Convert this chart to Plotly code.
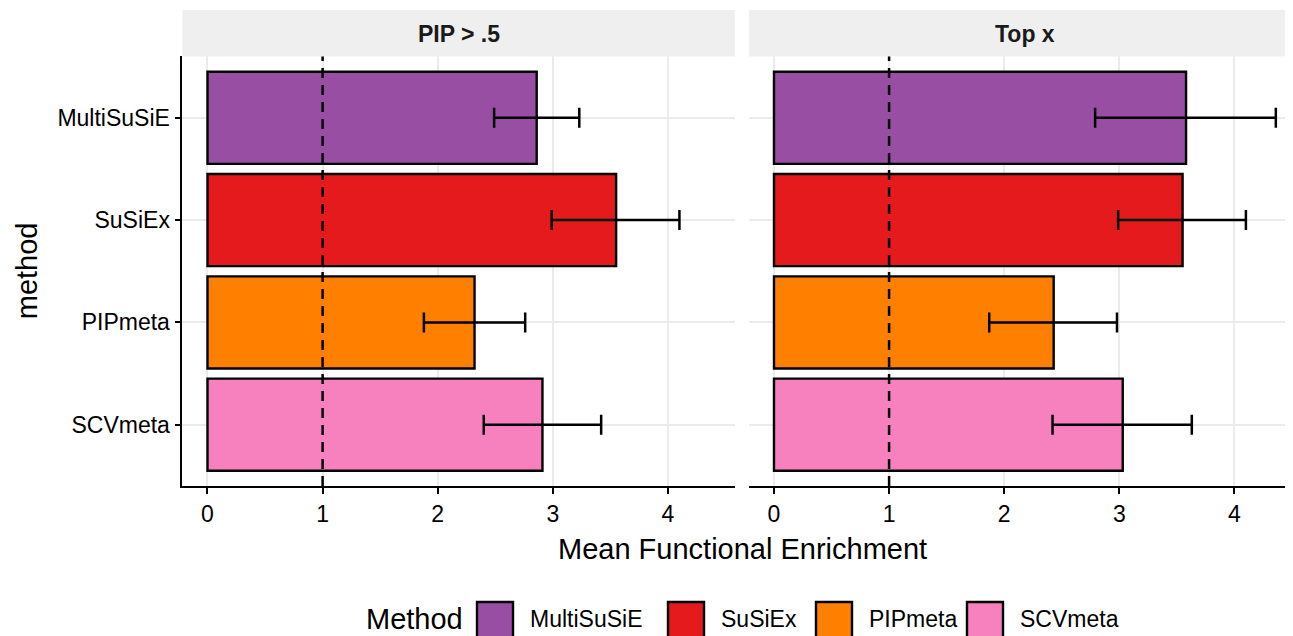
import plotly.graph_objects as go

# ---------------- data ----------------
methods = ["MultiSuSiE", "SuSiEx", "PIPmeta", "SCVmeta"]
method_colors = ["#984EA3", "#E41A1C", "#FF7F00", "#F781BF"]
panels = ["PIP > .5", "Top x"]

pip_mean = [2.86, 3.55, 2.32, 2.91]
pip_lower = [2.49, 2.99, 1.88, 2.40]
pip_upper = [3.23, 4.10, 2.76, 3.42]

top_mean = [3.58, 3.55, 2.43, 3.03]
top_lower = [2.79, 2.99, 1.87, 2.42]
top_upper = [4.36, 4.10, 2.98, 3.63]

x_ticks = [0, 1, 2, 3, 4]
null_enrichment = 1

x_title = "Mean Functional Enrichment"
y_title = "method"
legend_title = "Method"

# ---------------- layout helpers ----------------
PAGE_W, PAGE_H = 1293, 636
OFF = 8  # default page body margin around the plot div
W, H = PAGE_W - OFF, PAGE_H - OFF
FONT = "Liberation Sans, Arial, Helvetica, sans-serif"


def px(x):
    return (x - OFF) / W


def py(y):
    return 1 - (y - OFF) / H


panel_top, panel_bottom = 56.4, 486.1
left_dom = (182.4, 734.8)
right_dom = (748.9, 1293.0)
unit = 115.1
x_range_left = [-0.218, 4.581]
x_range_right = [-0.218, -0.218 + (right_dom[1] - right_dom[0]) / unit]
full_panel_w = (x_range_left[1] - x_range_left[0]) * unit

fig = go.Figure()

series = [(pip_mean, pip_lower, pip_upper), (top_mean, top_lower, top_upper)]
for i, (mean, lo, hi) in enumerate(series):
    xa = "x" if i == 0 else "x2"
    ya = "y" if i == 0 else "y2"
    fig.add_trace(go.Bar(
        x=mean, y=methods, orientation="h", width=0.9,
        marker=dict(color=method_colors, line=dict(color="black", width=2.4)),
        error_x=dict(type="data", symmetric=False,
                     array=[h - m for h, m in zip(hi, mean)],
                     arrayminus=[m - l for m, l in zip(mean, lo)],
                     color="black", thickness=2.5, width=10),
        xaxis=xa, yaxis=ya, showlegend=False, hoverinfo="x+y",
    ))
    fig.add_shape(type="line", xref=xa, yref=f"{ya} domain",
                  x0=null_enrichment, x1=null_enrichment, y0=0, y1=1,
                  line=dict(color="black", width=2.5, dash="10px,7px"),
                  layer="above")

common_x = dict(tickvals=x_ticks, ticks="outside", ticklen=6, tickwidth=1.8,
                tickcolor="black", showline=True, linecolor="black", linewidth=1.8,
                showgrid=True, gridcolor="#EBEBEB", gridwidth=1.6, zeroline=False,
                tickfont=dict(size=23, color="black", family=FONT))

fig.update_layout(
    width=W, height=H, margin=dict(l=0, r=0, t=0, b=0),
    paper_bgcolor="white", plot_bgcolor="white",
    font=dict(family=FONT, color="black"),
    bargap=0.1,
    xaxis=dict(domain=[px(left_dom[0]), px(left_dom[1])], range=x_range_left,
               anchor="y", **common_x),
    xaxis2=dict(domain=[px(right_dom[0]), min(1.0, px(right_dom[1]))], range=x_range_right,
                anchor="y2", **common_x),
    yaxis=dict(domain=[py(panel_bottom), py(panel_top)], anchor="x",
               type="category", categoryorder="array", categoryarray=methods,
               range=[len(methods) - 0.4, -0.6],
               ticks="outside", ticklen=6, tickwidth=1.8, tickcolor="black",
               showline=True, linecolor="black", linewidth=1.8,
               showgrid=True, gridcolor="#EBEBEB", gridwidth=1.6, zeroline=False,
               tickfont=dict(size=23, color="black", family=FONT)),
    yaxis2=dict(domain=[py(panel_bottom), py(panel_top)], anchor="x2",
                type="category", categoryorder="array", categoryarray=methods,
                range=[len(methods) - 0.4, -0.6],
                ticks="", showticklabels=False, showline=False,
                showgrid=True, gridcolor="#EBEBEB", gridwidth=1.6, zeroline=False),
)

# facet strips
for name, dom in zip(panels, [left_dom, right_dom]):
    fig.add_shape(type="rect", xref="paper", yref="paper",
                  x0=px(dom[0]), x1=min(1.0, px(dom[1])), y0=py(56.4), y1=py(10),
                  fillcolor="#EFEFEF", line=dict(width=0), layer="below")
    fig.add_annotation(text=f"<b>{name}</b>", xref="paper", yref="paper",
                       x=px(dom[0] + full_panel_w / 2), y=py(34),
                       showarrow=False, xanchor="center", yanchor="middle",
                       font=dict(size=23, color="#1A1A1A", family=FONT))

# axis titles
fig.add_annotation(text=x_title, xref="paper", yref="paper",
                   x=px(742), y=py(549), showarrow=False,
                   xanchor="center", yanchor="middle",
                   font=dict(size=29, color="black", family=FONT))
fig.add_annotation(text=y_title, xref="paper", yref="paper",
                   x=px(27), y=py((panel_top + panel_bottom) / 2), textangle=-90,
                   showarrow=False, xanchor="center", yanchor="middle",
                   font=dict(size=29, color="black", family=FONT))

# legend (drawn at ggplot key size)
fig.add_annotation(text=legend_title, xref="paper", yref="paper",
                   x=px(364), y=py(619), showarrow=False, xanchor="left", yanchor="middle",
                   font=dict(size=29, color="black", family=FONT))
key_left = [477, 668, 816, 967]
for name, col, kx in zip(methods, method_colors, key_left):
    fig.add_shape(type="rect", xref="paper", yref="paper",
                  x0=px(kx), x1=px(kx + 36), y0=py(640), y1=py(602),
                  fillcolor=col, line=dict(color="black", width=2.4))
    fig.add_annotation(text=name, xref="paper", yref="paper",
                       x=px(kx + 51), y=py(619), showarrow=False,
                       xanchor="left", yanchor="middle",
                       font=dict(size=23, color="black", family=FONT))

fig.write_html("out.html")
